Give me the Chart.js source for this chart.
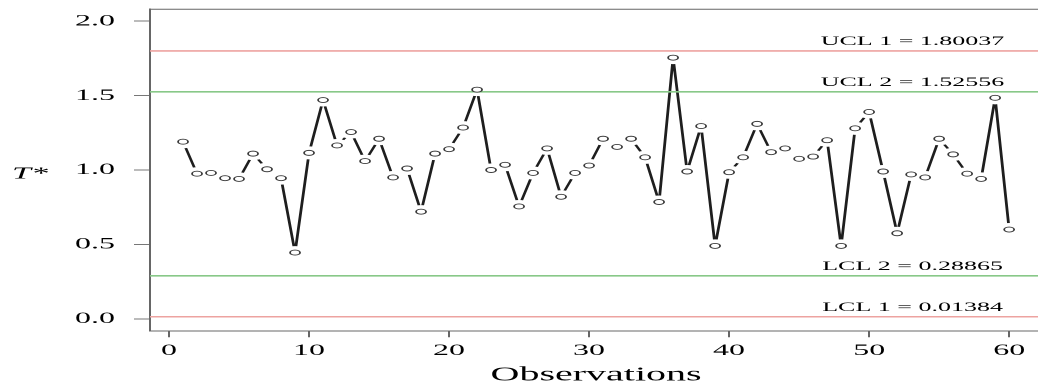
<!DOCTYPE html>
<html>
<head>
<meta charset="utf-8">
<script src="https://cdn.jsdelivr.net/npm/chart.js@4.4.1/dist/chart.umd.min.js"></script>
<style>
  html, body { margin: 0; padding: 0; background: #fff; overflow: hidden; width: 1038px; height: 387px; }
  /* the plot is laid out at half width and stretched horizontally */
  #wrap { position: absolute; left: 0; top: 0; width: 526px; height: 387px; transform: scaleX(2); transform-origin: 0 0; }
</style>
</head>
<body>
<div id="wrap"><canvas id="chart"></canvas></div>
<script>
// Observation numbers and the T* statistic for each observation
const observations = [1, 2, 3, 4, 5, 6, 7, 8, 9, 10,
  11, 12, 13, 14, 15, 16, 17, 18, 19, 20,
  21, 22, 23, 24, 25, 26, 27, 28, 29, 30,
  31, 32, 33, 34, 35, 36, 37, 38, 39, 40,
  41, 42, 43, 44, 45, 46, 47, 48, 49, 50,
  51, 52, 53, 54, 55, 56, 57, 58, 59, 60];
const tStar = [1.19, 0.975, 0.98, 0.945, 0.94, 1.11, 1.005, 0.945, 0.445, 1.115,
  1.47, 1.165, 1.255, 1.06, 1.21, 0.95, 1.01, 0.72, 1.11, 1.14,
  1.285, 1.54, 1.0, 1.035, 0.755, 0.98, 1.145, 0.82, 0.98, 1.03,
  1.21, 1.155, 1.21, 1.085, 0.785, 1.755, 0.99, 1.295, 0.49, 0.985,
  1.085, 1.31, 1.12, 1.145, 1.075, 1.09, 1.2, 0.49, 1.28, 1.39,
  0.99, 0.575, 0.97, 0.95, 1.21, 1.105, 0.975, 0.94, 1.485, 0.6];

// Control limits
const limitNames = ['UCL 1', 'UCL 2', 'LCL 2', 'LCL 1'];
const limitValues = [1.80037, 1.52556, 0.28865, 0.01384];

// Axis ticks
const xTickValues = [0, 10, 20, 30, 40, 50, 60];
const xTickLabels = ['0', '10', '20', '30', '40', '50', '60'];
const yTickValues = [0, 0.5, 1, 1.5, 2];
const yTickLabels = ['0.0', '0.5', '1.0', '1.5', '2.0'];

// Styling
const limitColors = ['#eda3a0', '#88c888', '#88c888', '#eda3a0'];
const X_MIN = -1.36, X_MAX = 62.36;
const Y_MIN = -0.0832, Y_MAX = 2.0832;
const LABEL_AT = 53.1;      // x position of the limit captions
const GAP = 6.5;            // blank space around each plotted point
const SERIF = "'Liberation Serif', 'Times New Roman', serif";

Chart.defaults.font.family = SERIF;
Chart.defaults.color = '#000';

const points = observations.map((o, i) => ({ x: o, y: tStar[i] }));

// opens a gap in the connecting line around every point (type "b" style)
const pointGaps = {
  id: 'pointGaps',
  afterDatasetDraw(chart, args) {
    if (args.index !== 0) return;
    const ctx = chart.ctx;
    ctx.save();
    ctx.globalCompositeOperation = 'destination-out';
    args.meta.data.forEach(pt => {
      ctx.beginPath();
      ctx.arc(pt.x, pt.y, GAP, 0, Math.PI * 2);
      ctx.fill();
    });
    ctx.restore();
  }
};

// top edge of the plot box, the horizontal y title and the limit captions
const decorations = {
  id: 'decorations',
  beforeDatasetsDraw(chart) {
    const { ctx, chartArea } = chart;
    ctx.save();
    ctx.strokeStyle = '#666';
    ctx.lineWidth = 1;
    ctx.beginPath();
    ctx.moveTo(chartArea.left, chartArea.top + 0.5);
    ctx.lineTo(chartArea.right, chartArea.top + 0.5);
    ctx.stroke();
    ctx.restore();
  },
  afterDraw(chart) {
    const { ctx, scales: { x, y } } = chart;
    ctx.save();
    ctx.fillStyle = '#000';
    ctx.textBaseline = 'middle';
    ctx.textAlign = 'left';
    ctx.font = 'italic 17px ' + SERIF;
    ctx.fillText('T*', 6, y.getPixelForValue(1) + 4);

    ctx.font = '13px ' + SERIF;
    ctx.textAlign = 'center';
    ctx.textBaseline = 'alphabetic';
    limitNames.forEach((name, i) => {
      ctx.fillText(name + ' = ' + limitValues[i].toFixed(5),
        x.getPixelForValue(LABEL_AT), y.getPixelForValue(limitValues[i]) - 6);
    });
    ctx.restore();
  }
};

const limitSets = limitValues.map((v, i) => ({
  type: 'line',
  data: [{ x: X_MIN, y: v }, { x: X_MAX, y: v }],
  borderColor: limitColors[i],
  borderWidth: 1.6,
  pointRadius: 0,
  order: 2
}));

new Chart(document.getElementById('chart'), {
  type: 'line',
  data: {
    datasets: [
      {
        data: points,
        borderColor: '#1e1e1e',
        borderWidth: 1.4,
        pointRadius: 0,
        tension: 0,
        fill: false,
        order: 3
      },
      ...limitSets,
      {
        data: points,
        showLine: false,
        pointStyle: 'circle',
        pointRadius: 2.5,
        pointBorderWidth: 0.9,
        pointBorderColor: '#3a3a3a',
        pointBackgroundColor: '#fff',
        order: 1
      }
    ]
  },
  options: {
    responsive: true,
    maintainAspectRatio: false,
    devicePixelRatio: 2,
    animation: false,
    events: [],
    layout: { padding: { left: 0, top: 8.8, right: 0, bottom: 0 } },
    plugins: { legend: { display: false }, tooltip: { enabled: false } },
    scales: {
      x: {
        type: 'linear',
        min: X_MIN,
        max: X_MAX,
        afterBuildTicks: s => { s.ticks = xTickValues.map(v => ({ value: v })); },
        afterFit: s => { s.height = 55.8; s.paddingLeft = 0; s.paddingRight = 0; },
        ticks: {
          callback: v => xTickLabels[xTickValues.indexOf(v)],
          font: { size: 16 },
          color: '#000',
          padding: 4,
          maxRotation: 0,
          autoSkip: false
        },
        grid: { display: true, drawOnChartArea: false, drawTicks: true, tickLength: 6, color: '#666', lineWidth: 1 },
        border: { display: true, color: '#666', width: 1 },
        title: { display: true, text: 'Observations', font: { size: 20 }, color: '#000', padding: { top: 0, bottom: 0 } }
      },
      y: {
        type: 'linear',
        min: Y_MIN,
        max: Y_MAX,
        afterBuildTicks: s => { s.ticks = yTickValues.map(v => ({ value: v })); },
        afterFit: s => { s.width = 75; s.paddingTop = 0; s.paddingBottom = 0; },
        ticks: {
          callback: v => yTickLabels[yTickValues.indexOf(v)],
          font: { size: 16 },
          color: '#000',
          padding: 9.5
        },
        grid: { display: true, drawOnChartArea: false, drawTicks: true, tickLength: 8, color: '#777', lineWidth: 1 },
        border: { display: true, color: '#666', width: 1 }
      }
    }
  },
  plugins: [pointGaps, decorations]
});
</script>
</body>
</html>
